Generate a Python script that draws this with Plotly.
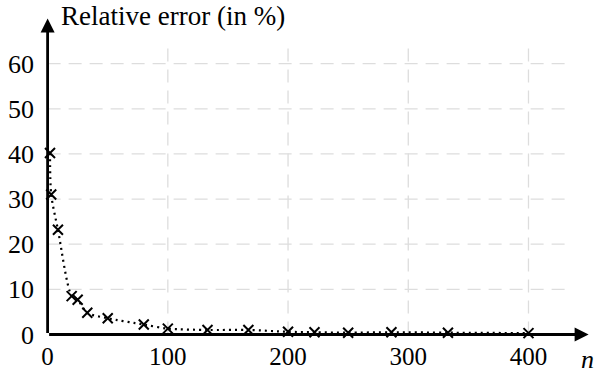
import plotly.graph_objects as go

# Data
n_values = [2, 3, 8.6, 20, 25, 33, 50, 80, 100, 133, 167, 200, 222, 250, 286, 333, 400]
rel_error = [40.2, 31.0, 23.2, 8.5, 7.7, 4.8, 3.6, 2.2, 1.3, 1.0, 1.0, 0.6, 0.5, 0.4, 0.5, 0.4, 0.3]

x_ticks = [0, 100, 200, 300, 400]
y_ticks = [0, 10, 20, 30, 40, 50, 60]

FONT = "Liberation Serif"
X_RANGE = [-3, 452]
Y_RANGE = [-1, 71]
X_AXIS_END = 450
Y_AXIS_END = 70
GRID_X_END = 431
GRID_Y_END = 65

fig = go.Figure()

# dotted smooth curve
fig.add_trace(go.Scatter(
    x=n_values, y=rel_error, mode="lines",
    line=dict(color="black", width=2.2, dash="2px,4px", shape="spline", smoothing=0.8),
    hoverinfo="skip", showlegend=False,
))
# crosses
fig.add_trace(go.Scatter(
    x=n_values, y=rel_error, mode="markers",
    marker=dict(symbol="x-thin-open", size=10, color="black",
                line=dict(color="black", width=2)),
    showlegend=False, cliponaxis=False,
))

shapes = []
for xv in x_ticks[1:]:
    shapes.append(dict(type="line", xref="x", yref="y", x0=xv, x1=xv, y0=0, y1=GRID_Y_END,
                       line=dict(color="#dddddd", width=1.3, dash="13px,8px"), layer="below"))
for yv in y_ticks[1:]:
    shapes.append(dict(type="line", xref="x", yref="y", x0=0, x1=GRID_X_END, y0=yv, y1=yv,
                       line=dict(color="#dddddd", width=1.3, dash="13px,8px"), layer="below"))

annotations = [
    # x axis arrow
    dict(x=X_AXIS_END, y=0, ax=0, ay=0, xref="x", yref="y", axref="x", ayref="y",
         showarrow=True, arrowhead=2, arrowsize=1.0, arrowwidth=2.8, arrowcolor="black", text=""),
    # y axis arrow
    dict(x=0, y=Y_AXIS_END, ax=0, ay=0, xref="x", yref="y", axref="x", ayref="y",
         showarrow=True, arrowhead=2, arrowsize=1.0, arrowwidth=2.8, arrowcolor="black", text=""),
    dict(x=1, y=0, xref="paper", yref="y", text="<i>n</i>", showarrow=False,
         xanchor="right", yanchor="top", yshift=-9, xshift=5,
         font=dict(family=FONT, size=26, color="black")),
    dict(x=0, y=Y_AXIS_END, xref="x", yref="y", text="Relative error (in %)", showarrow=False,
         xanchor="left", yanchor="middle", xshift=11, yshift=3,
         font=dict(family=FONT, size=27, color="black")),
]

fig.update_layout(
    width=598, height=374,
    margin=dict(l=44, r=7, t=14, b=35),
    paper_bgcolor="white", plot_bgcolor="white",
    shapes=shapes, annotations=annotations,
    font=dict(family=FONT, size=26, color="black"),
    xaxis=dict(range=X_RANGE, tickvals=x_ticks, ticktext=[str(v) for v in x_ticks],
               showgrid=False, zeroline=False, showline=False, ticks="", automargin=False,
               tickfont=dict(family=FONT, size=25, color="black")),
    yaxis=dict(range=Y_RANGE, tickvals=y_ticks, ticktext=[str(v) for v in y_ticks],
               showgrid=False, zeroline=False, showline=False, ticks="", automargin=False,
               ticklabelstandoff=9,
               tickfont=dict(family=FONT, size=26, color="black")),
)

fig.write_html(
    "out.html",
    config={"displayModeBar": False},
    post_script="document.body.style.margin='0';document.body.style.overflow='hidden';",
)
